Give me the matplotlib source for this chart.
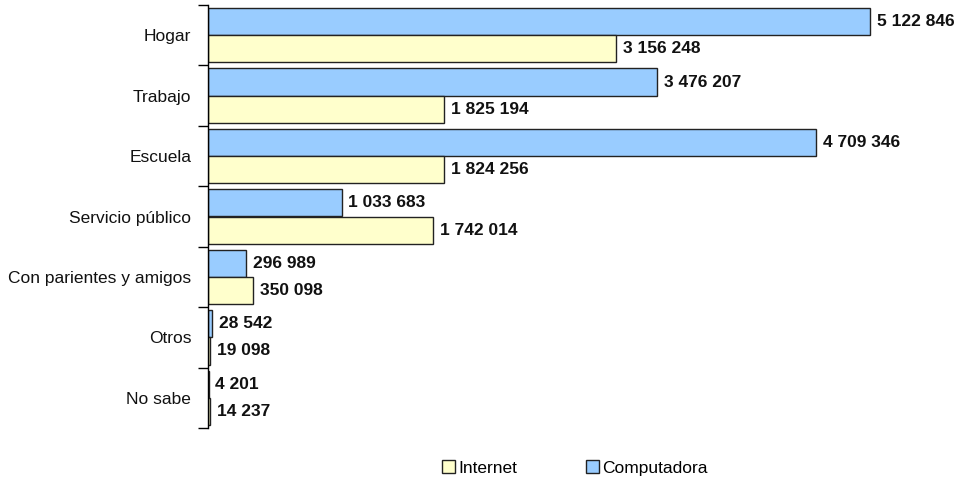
import matplotlib.pyplot as plt
import numpy as np

plt.rcParams['font.family'] = ['Liberation Sans', 'DejaVu Sans']

categories = ["Hogar", "Trabajo", "Escuela", "Servicio público",
              "Con parientes y amigos", "Otros", "No sabe"]
computadora = [5122846, 3476207, 4709346, 1033683, 296989, 28542, 4201]
internet = [3156248, 1825194, 1824256, 1742014, 350098, 19098, 14237]


def fmt(v):
    return f"{v:,}".replace(",", " ")


fig = plt.figure(figsize=(9.58, 4.83), dpi=100)
ax = fig.add_axes([208 / 958, 1 - 428 / 483, 1 - 208 / 958, 423 / 483])

n = len(categories)
y = np.arange(n)
h = 0.45
b1 = ax.barh(y - h / 2, computadora, height=h, color="#99CCFF",
             edgecolor="#222222", linewidth=1.0, label="Computadora")
b2 = ax.barh(y + h / 2, internet, height=h, color="#FFFFCC",
             edgecolor="#222222", linewidth=1.0, label="Internet")

for bars, vals in [(b1, computadora), (b2, internet)]:
    for rect, v in zip(bars, vals):
        ax.annotate(fmt(v), (rect.get_width(), rect.get_y() + rect.get_height() / 2),
                    xytext=(5, 0), textcoords="offset points",
                    va="center", ha="left", fontsize=12.5, fontweight="bold",
                    color="#111111")

ax.set_ylim(n - 0.5, -0.5)
ax.set_xlim(0, 5.805e6)
ax.set_yticks(y)
ax.set_yticklabels(categories, fontsize=12.5, color="#111111")
ax.set_yticks(np.arange(n + 1) - 0.5, minor=True)
ax.tick_params(axis="y", which="major", length=0, pad=12)
ax.tick_params(axis="y", which="minor", length=7, width=1.0, direction="out")
ax.set_xticks([])
for s in ["top", "right", "bottom"]:
    ax.spines[s].set_visible(False)
ax.spines["left"].set_linewidth(1.0)

handles = [b2, b1]
fig.legend(handles, ["Internet", "Computadora"], loc="center",
           bbox_to_anchor=(575 / 958, 1 - 468 / 483), ncol=2, frameon=False,
           fontsize=12.5, handlelength=0.75, handleheight=0.75, handletextpad=0.15,
           columnspacing=4.0)

fig.savefig("out.png", dpi=100)
